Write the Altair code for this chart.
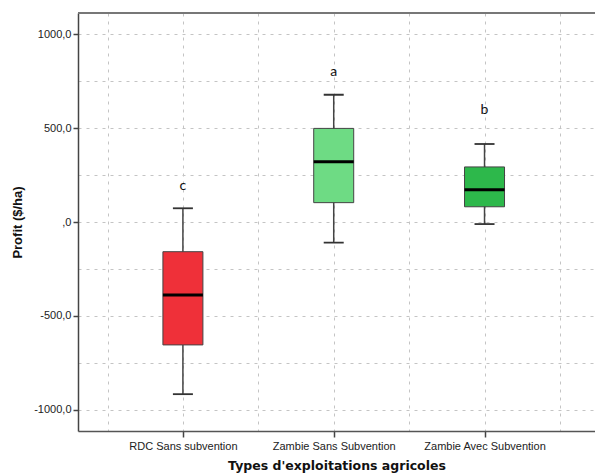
import altair as alt
import pandas as pd

# Data
categories = ["RDC Sans subvention", "Zambie Sans Subvention", "Zambie Avec Subvention"]
positions = [0, 1, 2]
lower_whisker = [-916, -110, -11]
q1 = [-654, 103, 81]
median = [-388, 321, 172]
q3 = [-158, 498, 293]
upper_whisker = [73, 677, 415]
letters = ["c", "a", "b"]
letter_y = [191, 800, 596]
colors = ["#EF3039", "#6EDB84", "#2DB84B"]

y_ticks = [-1000, -750, -500, -250, 0, 250, 500, 750, 1000]
x_ticks = [-0.5, 0, 0.5, 1, 1.5, 2, 2.5]

df = pd.DataFrame({
    "cat": categories, "pos": positions, "lo": lower_whisker, "q1": q1,
    "med": median, "q3": q3, "hi": upper_whisker, "letter": letters,
    "ly": letter_y, "color": colors,
})

W, H = 517, 418
xscale = alt.Scale(domain=[-0.6625, 2.6994], nice=False, zero=False)
yscale = alt.Scale(domain=[-1112, 1112], nice=False, zero=False)

x_label_expr = " : ".join(
    [f"datum.value == {p} ? '{c}'" for p, c in zip(positions, categories)]
) + " : ''"

x_axis = alt.Axis(
    values=x_ticks, grid=True, gridDash=[3, 5], gridColor="#c4c4c4", gridWidth=1,
    labelExpr=x_label_expr, labelFont="Liberation Sans", labelFontSize=11,
    labelColor="#222", labelPadding=3, tickSize=6, tickColor="#444", tickWidth=1.5,
    tickOpacity={"condition": {"test": "datum.value % 1 === 0", "value": 1}, "value": 0},
    domainColor="#555", domainWidth=1.5,
    title="Types d'exploitations agricoles", titleFont="DejaVu Sans",
    titleFontSize=12.5, titleFontWeight="bold", titleColor="#111", titlePadding=8,
)
y_axis = alt.Axis(
    values=y_ticks, grid=True, gridDash=[3, 5], gridColor="#c4c4c4", gridWidth=1,
    labelExpr="datum.value % 500 === 0 ? (datum.value === 0 ? ',0' : datum.value + ',0') : ''",
    labelFont="Liberation Sans", labelFontSize=11, labelColor="#222", labelPadding=2,
    tickSize=5, tickColor="#444", tickWidth=1.5,
    tickOpacity={"condition": {"test": "datum.value % 500 === 0", "value": 1}, "value": 0},
    domainColor="#444", domainWidth=1.5,
    title="Profit ($/ha)", titleFont="Liberation Sans", titleFontSize=13,
    titleFontWeight="bold", titleColor="#111", titlePadding=9,
)

base = alt.Chart(df)

whisker = base.mark_rule(color="#444", strokeWidth=1.5).encode(
    x=alt.X("pos:Q", scale=xscale, axis=x_axis),
    y=alt.Y("lo:Q", scale=yscale, axis=y_axis),
    y2="hi:Q",
)
box = base.mark_bar(size=40, stroke="#444", strokeWidth=1).encode(
    x=alt.X("pos:Q", scale=xscale),
    y=alt.Y("q1:Q", scale=yscale),
    y2="q3:Q",
    color=alt.Color("color:N", scale=None),
)
med = base.mark_tick(orient="horizontal", size=40, thickness=3, color="#000", opacity=1).encode(
    x=alt.X("pos:Q", scale=xscale),
    y=alt.Y("med:Q", scale=yscale),
)
cap_lo = base.mark_tick(orient="horizontal", size=20, thickness=1.8, color="#333", opacity=1).encode(
    x=alt.X("pos:Q", scale=xscale),
    y=alt.Y("lo:Q", scale=yscale),
)
cap_hi = base.mark_tick(orient="horizontal", size=20, thickness=1.8, color="#333", opacity=1).encode(
    x=alt.X("pos:Q", scale=xscale),
    y=alt.Y("hi:Q", scale=yscale),
)
txt = base.mark_text(font="Lato", fontSize=14, color="#111", baseline="middle").encode(
    x=alt.X("pos:Q", scale=xscale),
    y=alt.Y("ly:Q", scale=yscale),
    text="letter:N",
)
top = alt.Chart(df).mark_rule(color="#777", strokeWidth=2).encode(
    x=alt.value(0), x2=alt.value(W), y=alt.value(0)
)

chart = alt.layer(whisker, box, med, cap_lo, cap_hi, txt, top).properties(
    width=W, height=H, autosize=alt.AutoSizeParams(type="none"),
    padding={"left": 70, "top": 5, "right": 0, "bottom": 44},
    background="white",
).configure_view(strokeWidth=0)

chart.save("out.html", embed_options={"renderer": "svg", "actions": False})
